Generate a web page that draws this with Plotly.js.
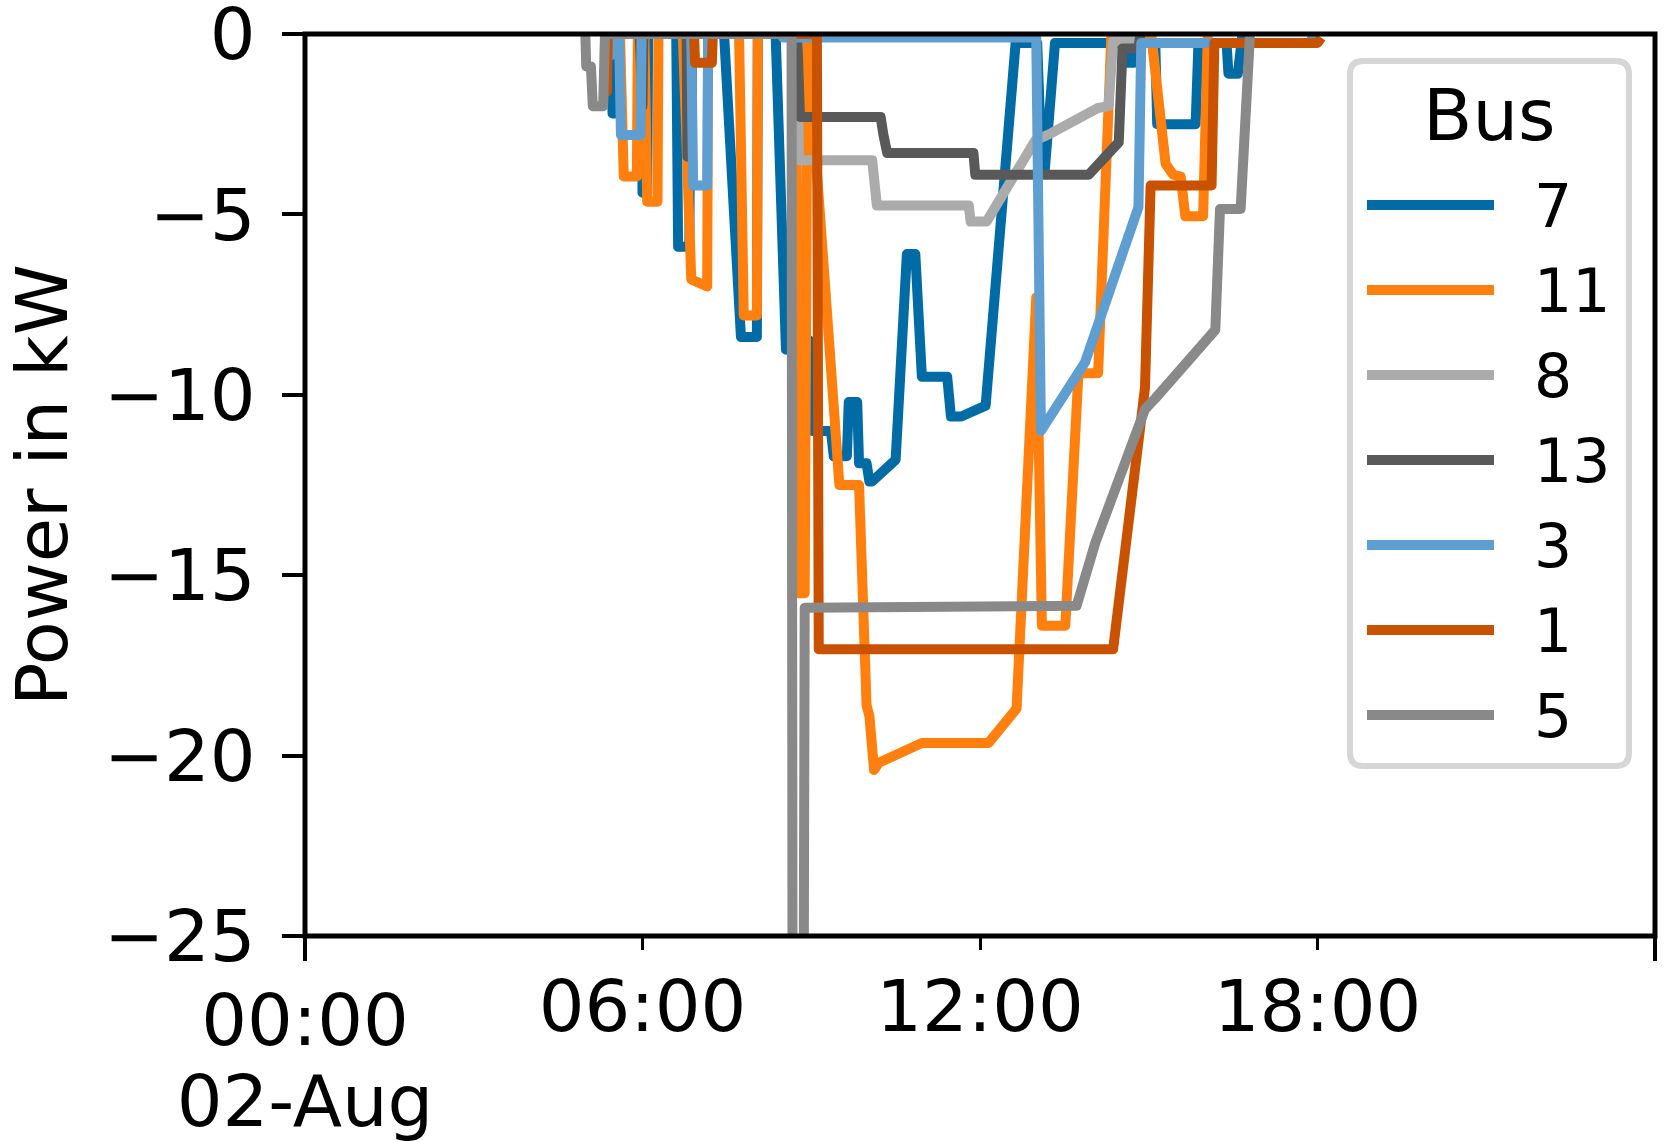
<!DOCTYPE html>
<html>
<head>
<meta charset="utf-8">
<script src="https://cdn.plot.ly/plotly-3.0.1.min.js"></script>
<style>html,body{margin:0;padding:0;background:#fff;}#chart{width:1664px;height:1142px;}</style>
</head>
<body>
<div id="chart"></div>
<script>
// ---------------- DATA ----------------
const DAY = '2023-08-02';
const NEXT_DAY = '2023-08-03';
const busNames = ['7', '11', '8', '13', '3', '1', '5'];

const bus7_t  = ['05:27','05:28','05:31','05:32','05:59','06:00','06:05','06:06','06:36','06:38','06:50','06:51','07:27','07:43','07:45','08:02','08:03','08:22','08:33','08:58','09:01','09:21','09:24','09:38','09:40','09:49','09:51','09:59','10:02','10:05','10:30','10:42','10:51','10:58','11:25','11:29','11:40','12:06','12:38','13:01','13:06','13:09','13:20','14:35','14:37','14:44','14:46','15:07','15:09','15:50','15:53','16:23','16:25','16:35','16:38','16:40'];
const bus7_kw = [0,-2.2,-2.2,0, 0,-4.4,-4.4,0, 0,-5.9,-5.9,0, 0,-7.6,-8.4,-8.4,0, 0,-8.75,-8.5,-11.0,-11.0,-11.7,-11.7,-10.2,-10.2,-11.9,-11.9,-12.4,-12.4,-11.8,-6.1,-6.1,-9.5,-9.5,-10.6,-10.6,-10.3,-0.25,-0.25,-3.8,-3.8,-0.25,-0.25,-0.8,-0.8,-0.25,-0.25,-2.5,-2.5,-0.25,-0.25,-1.1,-1.1,-0.25,0];

const bus11_t  = ['05:36','05:38','05:40','05:54','05:55','06:02','06:05','06:16','06:17','06:43','06:52','07:09','07:10','07:43','07:48','08:02','08:03','08:44','08:46','08:53','08:56','09:30','09:51','09:59','10:02','10:07','10:12','10:58','12:09','12:39','13:00','13:06','13:31','13:45','14:06','14:20','15:03','15:18','15:26','15:34','15:39','15:58','16:01','16:03'];
const bus11_kw = [0,-3.4,-3.95,-3.95,0, 0,-4.65,-4.65,0, 0,-6.8,-7.0,0, 0,-7.8,-7.8,0, 0,-15.5,-15.5,-0.2,-12.5,-12.5,-18.6,-18.9,-20.4,-20.2,-19.65,-19.65,-18.7,-7.3,-16.4,-16.4,-9.4,-9.4,-0.1,-0.1,-3.6,-3.9,-3.95,-5.05,-5.05,-0.1,0];

const bus8_t  = ['08:45','08:47','10:05','10:10','11:48','11:50','12:07','12:59','13:16','14:06','14:17','14:22','14:44','14:46'];
const bus8_kw = [0,-3.5,-3.5,-4.75,-4.75,-5.2,-5.2,-2.95,-2.75,-2.05,-2.0,-0.2,-0.2,0];

const bus13_t  = ['05:57','05:58','06:00','06:01','06:47','06:48','06:52','06:53','08:45','08:48','10:14','10:17','10:21','11:53','11:55','13:56','14:28','14:32','14:49','14:51'];
const bus13_kw = [0,-2.0,-2.0,0, 0,-3.4,-3.4,0, 0,-2.3,-2.3,-2.8,-3.3,-3.3,-3.9,-3.9,-3.0,-0.4,-0.4,0];

const bus3_t  = ['05:22','05:23','05:26','05:27','05:35','05:37','05:58','05:59','06:52','06:54','07:09','07:10','08:28','08:30','13:00','13:05','13:52','14:49','14:52','17:53','17:55'];
const bus3_kw = [0,-0.6,-0.6,0, 0,-2.8,-2.8,0, 0,-4.2,-4.2,0, 0,-0.1,-0.1,-11.0,-9.1,-4.8,-0.25,-0.25,0];

const bus1_t  = ['05:20','05:21','05:22','05:23','06:55','06:56','07:14','07:15','09:06','09:08','14:22','14:56','15:02','16:07','16:10','18:00','18:04'];
const bus1_kw = [0,-1.6,-1.6,0, 0,-0.8,-0.8,0, 0,-17.05,-17.05,-9.8,-4.2,-4.2,-0.25,-0.25,-0.1];

const bus5_t  = ['04:59','05:00','05:05','05:07','05:18','05:20','08:39','08:40','08:52','08:53','13:43','14:03','14:56','15:07','16:11','16:16','16:38','16:46','16:48'];
const bus5_kw = [0,-0.9,-0.9,-2.0,-2.0,0, 0,-26,-26,-15.9,-15.85,-14.1,-10.4,-10.1,-8.2,-4.85,-4.85,-0.1,0];

const yTickValues = [0, -5, -10, -15, -20, -25];
const minorTickTimes = ['06:00', '12:00', '18:00'];
const minorTickLabels = ['06:00', '12:00', '18:00'];
const majorTickLabel = '00:00';
const dateTickLabel = '02-Aug';
const legendTitle = 'Bus';
const yAxisTitle = 'Power in kW';

// ---------------- STYLE ----------------
const busColors = {'7':'#006BA4','11':'#FF800E','8':'#ABABAB','13':'#595959','3':'#5F9ED1','1':'#C85200','5':'#898989'};
const FONT = 'DejaVu Sans';
const LINE_W = 10;
const L = 305, R = 9, T = 34, B = 206;
const FW = 1664, FH = 1142;
const PW = FW - L - R, PH = FH - T - B;

const seriesByBus = {
  '7': [bus7_t, bus7_kw], '11': [bus11_t, bus11_kw], '8': [bus8_t, bus8_kw],
  '13': [bus13_t, bus13_kw], '3': [bus3_t, bus3_kw], '1': [bus1_t, bus1_kw], '5': [bus5_t, bus5_kw]
};
const stamp = (hm) => DAY + ' ' + hm;

const traces = busNames.map(name => ({
  type: 'scatter', mode: 'lines', name: name,
  x: seriesByBus[name][0].map(stamp), y: seriesByBus[name][1],
  line: {color: busColors[name], width: LINE_W},
  hoverinfo: 'skip', showlegend: false
}));
traces.push({type:'scatter', mode:'lines', x:[], y:[], xaxis:'x2', yaxis:'y', showlegend:false, hoverinfo:'skip'});
traces.push({type:'scatter', mode:'lines', x:[], y:[], xaxis:'x3', yaxis:'y', showlegend:false, hoverinfo:'skip'});

// px -> paper helpers
const px = (v) => (v - L) / PW;
const py = (v) => 1 - (v - T) / PH;

// legend geometry (pixels)
const LG = {x0: 1350, x1: 1629, y0: 61, y1: 766, r: 13, lineX0: 1367, lineX1: 1494, labelX: 1532, titleY: 115, firstY: 205, pitch: 85};
function roundRectPath(x0, y0, x1, y1, r) {
  const P = (x, y) => px(x).toFixed(5) + ',' + py(y).toFixed(5);
  return 'M' + P(x0 + r, y0) + ' L' + P(x1 - r, y0) + ' Q' + P(x1, y0) + ' ' + P(x1, y0 + r) +
    ' L' + P(x1, y1 - r) + ' Q' + P(x1, y1) + ' ' + P(x1 - r, y1) +
    ' L' + P(x0 + r, y1) + ' Q' + P(x0, y1) + ' ' + P(x0, y1 - r) +
    ' L' + P(x0, y0 + r) + ' Q' + P(x0, y0) + ' ' + P(x0 + r, y0) + ' Z';
}

const shapes = [
  {type:'path', xref:'paper', yref:'paper', path: roundRectPath(LG.x0, LG.y0, LG.x1, LG.y1, LG.r),
   line:{color:'#d6d6d6', width:6}, fillcolor:'rgba(255,255,255,0.8)', layer:'above'}
];
const annotations = [
  {xref:'paper', yref:'paper', x: px((LG.x0 + LG.x1) / 2), y: py(LG.titleY), text: legendTitle,
   showarrow:false, xanchor:'center', yanchor:'middle', font:{family:FONT, size:72, color:'#000'}}
];
busNames.forEach((name, i) => {
  const yy = LG.firstY + i * LG.pitch;
  shapes.push({type:'line', xref:'paper', yref:'paper', x0: px(LG.lineX0), x1: px(LG.lineX1), y0: py(yy), y1: py(yy),
    line:{color: busColors[name], width: LINE_W}, layer:'above'});
  annotations.push({xref:'paper', yref:'paper', x: px(LG.labelX), y: py(yy + 1), text: name, showarrow:false,
    xanchor:'left', yanchor:'middle', font:{family:FONT, size:60, color:'#000'}});
});
// axes frame (spines)
shapes.push({type:'rect', xref:'paper', yref:'paper', x0:0, x1:1, y0:0, y1:1,
  line:{color:'#000', width:5}, fillcolor:'rgba(0,0,0,0)', layer:'above'});

const xRange = [DAY + ' 00:00', NEXT_DAY + ' 00:00'];
const tickFont = {family: FONT, size: 72, color: '#000'};
const commonX = {type:'date', range: xRange, showgrid:false, zeroline:false, showline:false, fixedrange:true,
  tickmode:'array', tickfont: tickFont, tickcolor:'#000', ticklabeloverflow:'allow'};

const layout = {
  width: FW, height: FH,
  margin: {l: L, r: R, t: T, b: B, pad: 0},
  paper_bgcolor: '#fff', plot_bgcolor: '#fff',
  showlegend: false,
  font: {family: FONT, color: '#000'},
  xaxis: Object.assign({}, commonX, {tickvals: minorTickTimes.map(stamp), ticktext: minorTickLabels,
    ticks:'outside', ticklen:13, tickwidth:3, ticklabelstandoff: -5}),
  xaxis2: Object.assign({}, commonX, {overlaying:'x', anchor:'y', side:'bottom',
    tickvals: [stamp('00:00'), NEXT_DAY + ' 00:00'], ticktext: [majorTickLabel, ''],
    ticks:'outside', ticklen:24, tickwidth:4, ticklabelstandoff: -2}),
  xaxis3: Object.assign({}, commonX, {overlaying:'x', anchor:'y', side:'bottom',
    tickvals: [stamp('00:00')], ticktext: [dateTickLabel], ticks:'', ticklabelstandoff: 117}),
  yaxis: {range:[-25, 0], tickmode:'array', tickvals: yTickValues, ticks:'outside', ticklen:22, tickwidth:4,
    tickcolor:'#000', tickfont: tickFont, showgrid:false, zeroline:false, showline:false, fixedrange:true,
    ticklabelstandoff: 12, ticklabeloverflow:'allow', automargin:false,
    title: {text: yAxisTitle, font: {family: FONT, size: 72, color:'#000'}, standoff: 57}},
  shapes: shapes,
  annotations: annotations
};

Plotly.newPlot('chart', traces, layout, {staticPlot: true, displayModeBar: false}).then(() => {
  document.querySelectorAll('.scatterlayer path.js-line').forEach(p => {
    p.style.strokeLinejoin = 'round';
  });
});
</script>
</body>
</html>
